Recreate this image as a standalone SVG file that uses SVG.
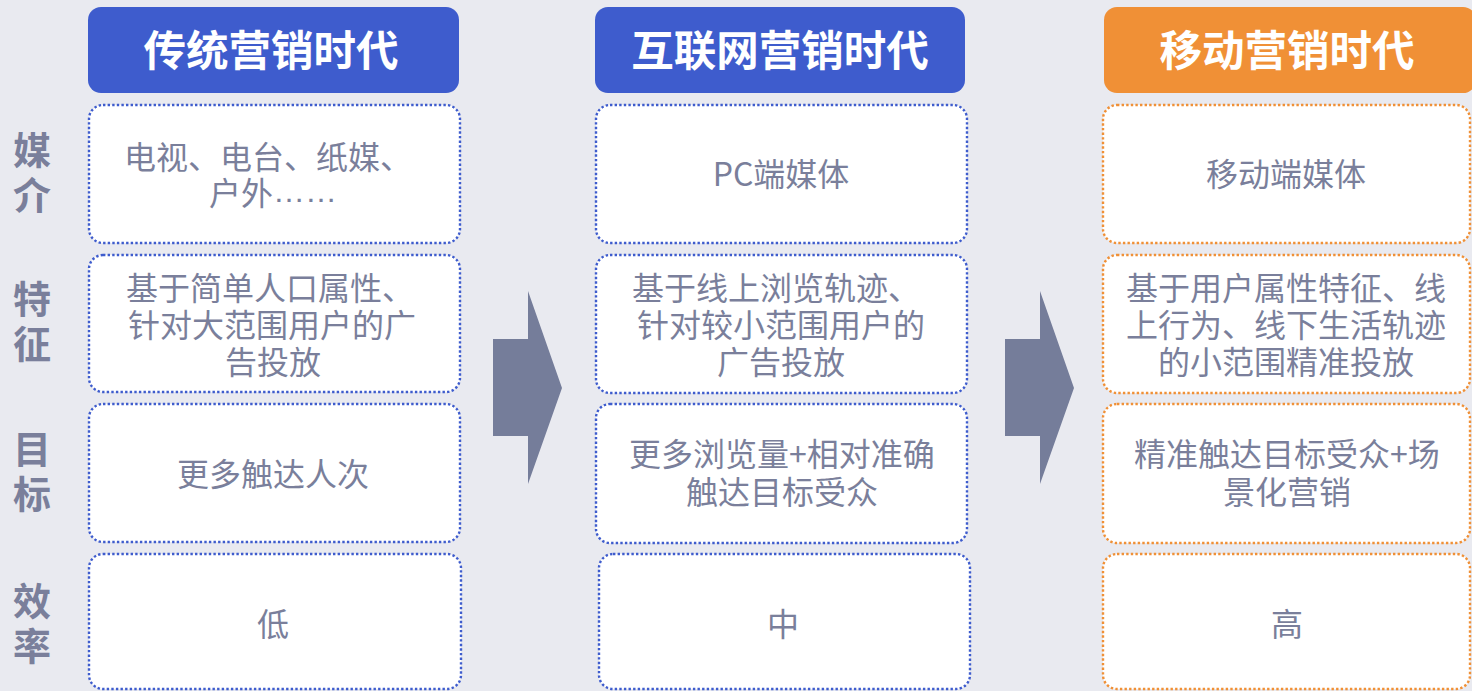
<svg xmlns="http://www.w3.org/2000/svg" width="1472" height="691" viewBox="0 0 1472 691">
<style>
.hdr{stroke:none}
.blue{fill:#3e5ccd}
.orange{fill:#f09036}
.box{fill:#ffffff;stroke-width:2.4;stroke-dasharray:2.4 2.2}
.bb{stroke:#3e5ccd}
.ob{stroke:#f09036}
.title{font-family:"Noto Sans CJK SC","Noto Sans",sans-serif;font-weight:bold;font-size:42.5px;fill:#ffffff;text-anchor:middle;dominant-baseline:central}
.t{font-family:"Noto Sans CJK SC","Noto Sans",sans-serif;font-size:32px;fill:#7a7f9b;text-anchor:middle;dominant-baseline:central}
.lab{font-family:"Noto Sans CJK SC","Noto Sans",sans-serif;font-weight:bold;font-size:38px;fill:#7a7f9b;text-anchor:middle;dominant-baseline:central}
.ell{font-family:"Liberation Sans",sans-serif}
.arrow{fill:#757d9a}
</style>
<rect x="0" y="0" width="1472" height="691" fill="#e9eaf0"/>

<g id="row-labels">
<text class="lab"><tspan x="32" y="147">媒</tspan><tspan x="32" y="192">介</tspan></text>
<text class="lab"><tspan x="32" y="296">特</tspan><tspan x="32" y="341">征</tspan></text>
<text class="lab"><tspan x="32" y="446">目</tspan><tspan x="32" y="491">标</tspan></text>
<text class="lab"><tspan x="32" y="598">效</tspan><tspan x="32" y="643">率</tspan></text>
</g>

<g id="header-traditional">
<rect class="hdr blue" x="88" y="7" width="371" height="86" rx="13"/>
<text class="title" x="271" y="47">传统营销时代</text>
</g>
<g id="header-internet">
<rect class="hdr blue" x="595" y="7" width="370" height="86" rx="13"/>
<text class="title" x="780" y="47">互联网营销时代</text>
</g>
<g id="header-mobile">
<rect class="hdr orange" x="1104" y="7" width="372" height="86" rx="13"/>
<text class="title" x="1287" y="47">移动营销时代</text>
</g>

<g id="c1-media">
<rect class="box bb" x="89" y="105" width="371" height="138" rx="14"/>
<text class="t"><tspan x="268" y="155">电视、电台、纸媒、</tspan><tspan x="273" y="191">户外<tspan class="ell">……</tspan></tspan></text>
</g>
<g id="c1-feature">
<rect class="box bb" x="89" y="255" width="371" height="137" rx="14"/>
<text class="t"><tspan x="270" y="286">基于简单人口属性、</tspan><tspan x="272" y="323">针对大范围用户的广</tspan><tspan x="273" y="360">告投放</tspan></text>
</g>
<g id="c1-goal">
<rect class="box bb" x="89" y="404" width="371" height="138" rx="14"/>
<text class="t" x="273" y="472">更多触达人次</text>
</g>
<g id="c1-eff">
<rect class="box bb" x="89" y="554" width="372" height="135" rx="14"/>
<text class="t" x="273" y="622">低</text>
</g>

<g id="c2-media">
<rect class="box bb" x="596" y="105" width="371" height="138" rx="14"/>
<text class="t" x="781" y="172">PC端媒体</text>
</g>
<g id="c2-feature">
<rect class="box bb" x="596" y="255" width="371" height="138" rx="14"/>
<text class="t"><tspan x="776" y="286">基于线上浏览轨迹、</tspan><tspan x="781" y="323">针对较小范围用户的</tspan><tspan x="781" y="360">广告投放</tspan></text>
</g>
<g id="c2-goal">
<rect class="box bb" x="596" y="404" width="371" height="139" rx="14"/>
<text class="t"><tspan x="782" y="452">更多浏览量+相对准确</tspan><tspan x="782" y="490">触达目标受众</tspan></text>
</g>
<g id="c2-eff">
<rect class="box bb" x="599" y="554" width="371" height="135" rx="14"/>
<text class="t" x="783" y="622">中</text>
</g>

<g id="c3-media">
<rect class="box ob" x="1103" y="105" width="367" height="138" rx="14"/>
<text class="t" x="1286" y="172">移动端媒体</text>
</g>
<g id="c3-feature">
<rect class="box ob" x="1103" y="255" width="367" height="138" rx="14"/>
<text class="t"><tspan x="1286" y="286">基于用户属性特征、线</tspan><tspan x="1286" y="323">上行为、线下生活轨迹</tspan><tspan x="1286" y="360">的小范围精准投放</tspan></text>
</g>
<g id="c3-goal">
<rect class="box ob" x="1103" y="404" width="367" height="139" rx="14"/>
<text class="t"><tspan x="1287" y="452">精准触达目标受众+场</tspan><tspan x="1287" y="490">景化营销</tspan></text>
</g>
<g id="c3-eff">
<rect class="box ob" x="1103" y="554" width="367" height="135" rx="14"/>
<text class="t" x="1287" y="622">高</text>
</g>

<g id="connectors">
<polygon class="arrow" points="493,339 528,339 528,291 562,388 528,484 528,436 493,436"/>
<polygon class="arrow" points="1005,339 1040,339 1040,291 1074,388 1040,484 1040,436 1005,436"/>
</g>
</svg>
